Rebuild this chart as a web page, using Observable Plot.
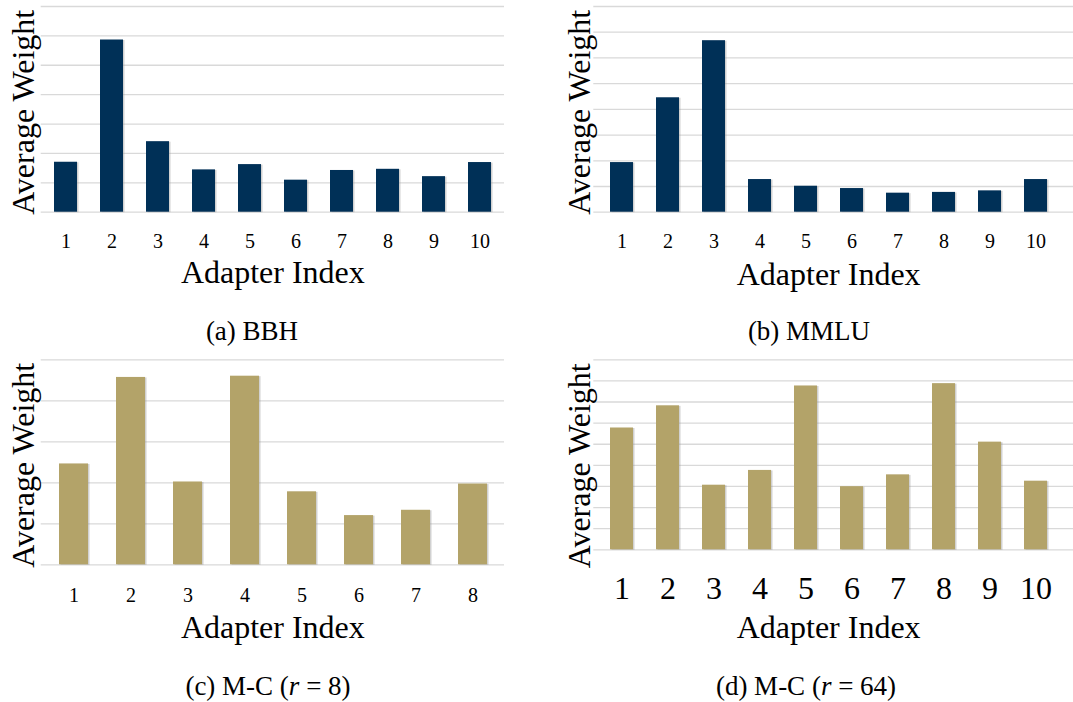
<!DOCTYPE html>
<html>
<head>
<meta charset="utf-8">
<script src="https://cdn.jsdelivr.net/npm/d3@7"></script>
<script src="https://cdn.jsdelivr.net/npm/@observablehq/plot@0.6"></script>
<style>
  html, body { margin: 0; padding: 0; background: #fff; }
  #fig { position: relative; width: 1073px; height: 702px; overflow: hidden; font-family: "Liberation Serif", "Times New Roman", serif; }
  .panel { position: absolute; }
  .panel text { font-family: "Liberation Serif", "Times New Roman", serif !important; }
  .cap { position: absolute; font-size: 27px; color: #000; white-space: nowrap; transform: translate(-50%, -50%); line-height: 1; font-family: "Liberation Serif", "Times New Roman", serif; }
</style>
</head>
<body>
<div id="fig"></div>
<script>
// ---- data ----
const adapters10 = [1, 2, 3, 4, 5, 6, 7, 8, 9, 10];
const adapters8 = [1, 2, 3, 4, 5, 6, 7, 8];
const weightsBBH = [1.70, 5.86, 2.40, 1.44, 1.62, 1.09, 1.42, 1.46, 1.21, 1.69];
const weightsMMLU = [1.93, 4.45, 6.67, 1.27, 1.01, 0.92, 0.74, 0.77, 0.83, 1.27];
const weightsMC8 = [2.46, 4.57, 2.02, 4.60, 1.78, 1.20, 1.33, 1.97];
const weightsMC64 = [5.77, 6.82, 3.06, 3.76, 7.76, 2.99, 3.55, 7.87, 5.10, 3.25];
const gridBBH = [0, 1, 2, 3, 4, 5, 6, 7];
const gridMMLU = [0, 1, 2, 3, 4, 5, 6, 7, 8];
const gridMC8 = [0, 1, 2, 3, 4, 5];
const gridMC64 = [0, 1, 2, 3, 4, 5, 6, 7, 8, 9];
const xLabel = "Adapter Index";
const yLabel = "Average Weight";
const captions = ["(a) BBH", "(b) MMLU", "(c) M-C (<i>r</i> = 8)", "(d) M-C (<i>r</i> = 64)"];

const NAVY = "#003057";
const GOLD = "#B3A369";
const GRID = "#d9d9d9";
const SERIF = "'Liberation Serif', 'Times New Roman', serif";

function panel({cats, vals, grid, color, width, height, mt, mb, ml, mr, xRange,
                tickFont, tickPad, xlabDy, xlabDx, ylabDx, ylabDy}) {
  const data = cats.map((c, i) => ({c, v: vals[i]}));
  return Plot.plot({
    width, height,
    marginTop: mt, marginBottom: mb, marginLeft: ml, marginRight: mr,
    style: {fontFamily: SERIF, color: "#000", background: "transparent", overflow: "visible"},
    x: {domain: cats, paddingInner: 0.5, paddingOuter: 0.25, axis: null, ...(xRange ? {range: xRange} : {})},
    y: {domain: [0, grid[grid.length - 1]], axis: null},
    marks: [
      Plot.ruleY(grid, {stroke: GRID, strokeWidth: 1.3}),
      Plot.barY(data, {x: "c", y: "v", fill: "#9a9a9a", fillOpacity: 0.45, dx: 1.5, dy: 0.5}),
      Plot.barY(data, {x: "c", y: "v", fill: color}),
      Plot.axisX({tickSize: 0, tickPadding: tickPad, fontSize: tickFont, fontFamily: SERIF, fill: "#000", label: null}),
      Plot.text([xLabel], {text: d => d, frameAnchor: "bottom", lineAnchor: "middle", dy: xlabDy, dx: xlabDx, fontSize: 32, fontFamily: SERIF, fill: "#000"}),
      Plot.text([yLabel], {text: d => d, frameAnchor: "left", rotate: -90, lineAnchor: "middle", textAnchor: "middle", dx: ylabDx, dy: ylabDy, fontSize: 32, fontFamily: SERIF, fill: "#000"})
    ]
  });
}

const fig = document.getElementById("fig");
function place(node, left, top) {
  node.classList.add("panel");
  node.style.left = left + "px";
  node.style.top = top + "px";
  fig.appendChild(node);
}

place(panel({cats: adapters10, vals: weightsBBH, grid: gridBBH, color: NAVY,
  width: 536, height: 300, mt: 6, mb: 88.3, ml: 40.7, mr: 32,
  tickFont: 20, tickPad: 21.6, xlabDy: 61, xlabDx: 0, ylabDx: -17, ylabDy: 3}), 0, 0);

place(panel({cats: adapters10, vals: weightsMMLU, grid: gridMMLU, color: NAVY,
  width: 533, height: 300, mt: 6, mb: 88.3, ml: 53.3, mr: 0, xRange: [53.3, 523.3],
  tickFont: 20, tickPad: 21.6, xlabDy: 63, xlabDx: -5, ylabDx: -14, ylabDy: 3}), 540, 0);

place(panel({cats: adapters8, vals: weightsMC8, grid: gridMC8, color: GOLD,
  width: 536, height: 320, mt: 19.3, mb: 95.7, ml: 40.7, mr: 32,
  tickFont: 20, tickPad: 23.3, xlabDy: 62.7, xlabDx: 0, ylabDx: -17, ylabDy: 3}), 0, 340);

place(panel({cats: adapters10, vals: weightsMC64, grid: gridMC64, color: GOLD,
  width: 533, height: 320, mt: 19.3, mb: 110.7, ml: 53.3, mr: 0, xRange: [53.3, 523.3],
  tickFont: 32, tickPad: 26, xlabDy: 77.7, xlabDx: -5, ylabDx: -14, ylabDy: 11}), 540, 340);

const capPos = [[252, 331], [809, 331], [268, 686], [806, 686]];
captions.forEach((t, i) => {
  const d = document.createElement("div");
  d.className = "cap";
  d.innerHTML = t;
  d.style.left = capPos[i][0] + "px";
  d.style.top = capPos[i][1] + "px";
  fig.appendChild(d);
});
</script>
</body>
</html>
